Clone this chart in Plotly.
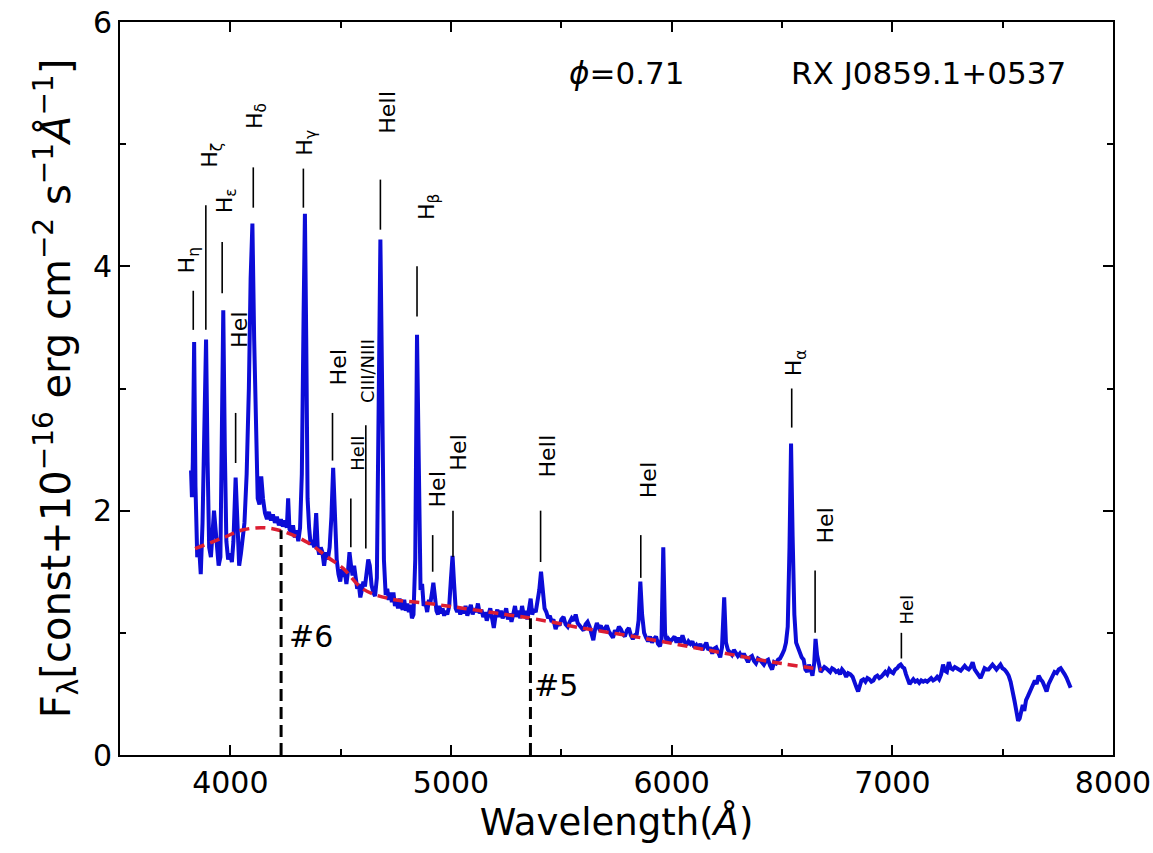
import plotly.graph_objects as go

# ---------------- data ----------------
wavelength = [3822, 3826, 3830, 3836, 3842, 3850, 3858, 3866, 3874, 3882, 3890, 3897, 3904, 3912, 3920, 3926, 3933, 3939, 3947, 3955,
              3962, 3968, 3975, 3982, 3990, 3998, 4007, 4014, 4024, 4032, 4040, 4048, 4056, 4064, 4074, 4084, 4092, 4100, 4108, 4116,
              4124, 4132, 4140, 4148, 4157, 4166, 4175, 4184, 4193, 4202, 4211, 4220, 4229, 4238, 4247, 4256, 4262, 4268, 4276, 4284,
              4292, 4300, 4308, 4316, 4324, 4332, 4338, 4344, 4350, 4357, 4364, 4371, 4380, 4389, 4396, 4403, 4410, 4417, 4425, 4433,
              4442, 4450, 4458, 4466, 4474, 4482, 4490, 4498, 4505, 4512, 4519, 4526, 4533, 4540, 4547, 4554, 4561, 4568, 4575, 4582,
              4589, 4596, 4603, 4610, 4617, 4625, 4632, 4640, 4648, 4656, 4664, 4672, 4680, 4688, 4696, 4704, 4711, 4718, 4725, 4732,
              4739, 4746, 4753, 4760, 4767, 4774, 4781, 4788, 4795, 4802, 4809, 4816, 4823, 4830, 4838, 4846, 4854, 4862, 4869, 4876,
              4884, 4892, 4900, 4907, 4914, 4920, 4927, 4934, 4941, 4948, 4955, 4962, 4969, 4976, 4983, 4992, 5000, 5007, 5014, 5021,
              5028, 5035, 5042, 5050, 5058, 5066, 5074, 5082, 5090, 5098, 5106, 5114, 5122, 5130, 5138, 5146, 5154, 5162, 5170, 5178,
              5186, 5194, 5202, 5210, 5218, 5226, 5234, 5242, 5250, 5258, 5266, 5274, 5282, 5290, 5298, 5306, 5314, 5322, 5330, 5338,
              5346, 5354, 5361, 5368, 5376, 5384, 5392, 5400, 5408, 5416, 5424, 5432, 5440, 5448, 5456, 5464, 5474, 5483, 5492, 5500,
              5510, 5519, 5529, 5538, 5547, 5556, 5565, 5574, 5583, 5592, 5601, 5610, 5619, 5628, 5637, 5645, 5653, 5661, 5670, 5679,
              5688, 5697, 5706, 5716, 5725, 5734, 5743, 5752, 5761, 5770, 5779, 5788, 5797, 5806, 5815, 5824, 5833, 5842, 5850, 5858,
              5866, 5875, 5884, 5893, 5902, 5911, 5920, 5929, 5938, 5947, 5954, 5962, 5970, 5978, 5986, 5995, 6004, 6013, 6022, 6031,
              6040, 6049, 6058, 6067, 6076, 6085, 6094, 6103, 6112, 6121, 6130, 6139, 6148, 6157, 6166, 6175, 6184, 6193, 6202, 6211,
              6220, 6228, 6238, 6246, 6255, 6264, 6273, 6282, 6291, 6300, 6309, 6318, 6327, 6336, 6346, 6355, 6364, 6373, 6382, 6391,
              6400, 6409, 6418, 6427, 6437, 6446, 6455, 6464, 6473, 6482, 6491, 6500, 6510, 6518, 6526, 6534, 6541, 6548, 6556, 6564,
              6572, 6580, 6589, 6598, 6606, 6614, 6622, 6630, 6638, 6646, 6652, 6659, 6667, 6675, 6684, 6692, 6700, 6709, 6718, 6727,
              6736, 6745, 6754, 6763, 6772, 6781, 6791, 6800, 6810, 6820, 6830, 6838, 6845, 6852, 6860, 6869, 6878, 6887, 6896, 6905,
              6914, 6923, 6932, 6941, 6950, 6959, 6968, 6977, 6986, 6995, 7004, 7013, 7022, 7030, 7038, 7046, 7054, 7062, 7070, 7078,
              7086, 7095, 7104, 7113, 7122, 7131, 7140, 7149, 7158, 7167, 7176, 7185, 7194, 7203, 7212, 7221, 7230, 7238, 7247, 7256,
              7265, 7274, 7283, 7292, 7301, 7310, 7319, 7328, 7337, 7346, 7355, 7364, 7373, 7382, 7391, 7400, 7409, 7418, 7427, 7436,
              7445, 7454, 7463, 7472, 7481, 7490, 7499, 7508, 7517, 7527, 7536, 7545, 7554, 7563, 7570, 7577, 7584, 7591, 7598, 7606,
              7614, 7622, 7630, 7638, 7646, 7654, 7663, 7672, 7681, 7690, 7699, 7708, 7717, 7726, 7735, 7745, 7754, 7763, 7772, 7781,
              7790, 7799, 7808]

flux = [2.33, 2.11, 2.40, 3.38, 2.20, 1.62, 1.72, 1.48, 1.90, 2.80, 3.40, 2.40, 1.70, 1.62, 1.85, 2.00, 1.85, 1.72, 1.55, 1.62,
        2.60, 3.64, 2.50, 1.75, 1.60, 1.65, 1.58, 1.75, 2.27, 1.85, 1.55, 1.65, 1.78, 1.90, 2.30, 3.00, 3.90, 4.35, 3.40, 2.60,
        2.10, 2.05, 2.28, 2.10, 1.98, 1.93, 1.99, 1.92, 1.97, 1.90, 1.95, 1.88, 1.93, 1.87, 1.92, 1.86, 2.10, 1.85, 1.82, 1.88,
        1.78, 1.84, 1.75, 1.86, 2.30, 3.60, 4.43, 3.40, 2.10, 1.86, 1.72, 1.76, 1.70, 1.98, 1.70, 1.64, 1.70, 1.66, 1.55, 1.66,
        1.60, 1.70, 1.95, 2.35, 1.95, 1.60, 1.48, 1.42, 1.52, 1.46, 1.50, 1.40, 1.50, 1.66, 1.55, 1.47, 1.55, 1.43, 1.36, 1.40,
        1.29, 1.35, 1.42, 1.38, 1.50, 1.60, 1.55, 1.39, 1.33, 1.30, 1.45, 3.20, 4.22, 3.00, 1.60, 1.31, 1.36, 1.27, 1.33, 1.25,
        1.33, 1.22, 1.26, 1.20, 1.28, 1.22, 1.19, 1.27, 1.18, 1.24, 1.17, 1.23, 1.12, 1.15, 1.60, 3.44, 2.00, 1.35, 1.40, 1.22,
        1.25, 1.17, 1.27, 1.25, 1.33, 1.41, 1.30, 1.18, 1.15, 1.22, 1.16, 1.20, 1.14, 1.18, 1.15, 1.22, 1.45, 1.63, 1.40, 1.20,
        1.17, 1.21, 1.15, 1.20, 1.16, 1.22, 1.14, 1.19, 1.23, 1.15, 1.20, 1.17, 1.24, 1.16, 1.19, 1.13, 1.17, 1.10, 1.16, 1.20,
        1.12, 1.04, 1.14, 1.19, 1.13, 1.18, 1.12, 1.15, 1.20, 1.11, 1.16, 1.09, 1.15, 1.22, 1.13, 1.18, 1.12, 1.22, 1.14, 1.18,
        1.11, 1.20, 1.28, 1.15, 1.19, 1.17, 1.24, 1.35, 1.50, 1.36, 1.20, 1.17, 1.12, 1.14, 1.09, 1.11, 1.03, 1.08, 1.06, 1.11,
        1.13, 1.07, 1.05, 1.09, 1.12, 1.10, 1.15, 1.08, 1.06, 1.04, 1.02, 1.07, 1.09, 1.05, 0.98, 0.94, 1.03, 1.08, 1.04, 1.06,
        1.01, 1.03, 1.06, 1.01, 0.99, 0.96, 1.02, 1.00, 1.05, 1.03, 0.99, 0.97, 1.02, 1.04, 0.98, 0.95, 0.98, 0.99, 1.10, 1.42,
        1.15, 1.00, 0.96, 0.93, 0.97, 0.92, 0.95, 0.97, 0.91, 0.89, 0.95, 1.70, 1.00, 0.92, 0.95, 0.93, 0.95, 0.97, 0.92, 0.96,
        0.92, 0.98, 0.93, 0.90, 0.93, 0.91, 0.93, 0.88, 0.90, 0.87, 0.91, 0.86, 0.89, 0.92, 0.86, 0.88, 0.83, 0.87, 0.88, 0.84,
        0.80, 0.88, 1.29, 0.92, 0.86, 0.84, 0.82, 0.86, 0.84, 0.81, 0.83, 0.80, 0.83, 0.79, 0.76, 0.80, 0.81, 0.77, 0.75, 0.79,
        0.78, 0.76, 0.74, 0.77, 0.78, 0.73, 0.70, 0.76, 0.75, 0.78, 0.79, 0.82, 0.86, 0.92, 1.05, 1.70, 2.55, 1.80, 1.15, 0.92,
        0.88, 0.86, 0.80, 0.78, 0.70, 0.68, 0.74, 0.70, 0.65, 0.75, 0.95, 0.82, 0.74, 0.68, 0.70, 0.72, 0.71, 0.69, 0.68, 0.71,
        0.70, 0.68, 0.69, 0.66, 0.70, 0.68, 0.64, 0.67, 0.66, 0.64, 0.60, 0.55, 0.52, 0.58, 0.61, 0.62, 0.60, 0.63, 0.62, 0.60,
        0.61, 0.64, 0.65, 0.63, 0.64, 0.66, 0.68, 0.66, 0.70, 0.68, 0.67, 0.70, 0.71, 0.73, 0.74, 0.72, 0.71, 0.66, 0.62, 0.58,
        0.60, 0.62, 0.60, 0.61, 0.59, 0.61, 0.60, 0.61, 0.60, 0.62, 0.63, 0.61, 0.62, 0.64, 0.62, 0.66, 0.74, 0.69, 0.68, 0.76,
        0.71, 0.70, 0.72, 0.71, 0.70, 0.69, 0.71, 0.73, 0.71, 0.70, 0.72, 0.76, 0.70, 0.68, 0.66, 0.63, 0.67, 0.71, 0.70, 0.70,
        0.72, 0.74, 0.72, 0.70, 0.72, 0.74, 0.71, 0.70, 0.68, 0.65, 0.60, 0.53, 0.44, 0.35, 0.28, 0.30, 0.38, 0.41, 0.36, 0.45,
        0.48, 0.51, 0.55, 0.58, 0.61, 0.58, 0.65, 0.62, 0.60, 0.56, 0.52, 0.58, 0.62, 0.66, 0.68, 0.67, 0.70, 0.71, 0.69, 0.66,
        0.63, 0.58, 0.55]

# continuum fit (red dashed)
cont_wl = [3840, 3970, 4050, 4150, 4240, 4350, 4440, 4510, 4600, 4720, 4900, 5060, 5210, 5360, 5480, 5560, 5860, 6160, 6460, 6680]
cont_flux = [1.69, 1.78, 1.84, 1.86, 1.83, 1.74, 1.62, 1.53, 1.36, 1.28, 1.24, 1.20, 1.16, 1.12, 1.08, 1.05, 0.96, 0.86, 0.76, 0.70]

# photometric reference points (#6, #5)
ref_names = ["#6", "#5"]
ref_wl = [4230, 5360]
ref_flux = [1.84, 1.12]
ref_label_wl = [4255, 5368]
ref_label_flux = [0.97, 0.57]

# line identifications
line_labels = ["H<sub>η</sub>", "H<sub>ζ</sub>", "H<sub>ε</sub>", "HeI", "H<sub>δ</sub>", "H<sub>γ</sub>", "HeI", "HeII",
               "CIII/NIII", "HeII", "H<sub>β</sub>", "HeI", "HeI", "HeII", "HeI", "H<sub>α</sub>", "HeI", "HeI"]
line_wl = [3832, 3889, 3963, 4024, 4104, 4331, 4463, 4546, 4614, 4680, 4846, 4917, 5009, 5406, 5860, 6544, 6650, 7041]
line_lo = [3.48, 3.48, 3.78, 2.39, 4.48, 4.48, 2.41, 1.70, 1.69, 4.30, 3.59, 1.50, 1.62, 1.58, 1.45, 2.68, 1.00, 0.79]
line_hi = [3.80, 4.50, 4.20, 2.80, 4.81, 4.80, 2.80, 2.10, 2.70, 4.71, 4.00, 1.80, 2.00, 2.00, 1.80, 3.00, 1.51, 1.00]
label_wl = [3809, 3915, 3980, 4044, 4116, 4346, 4492, 4576, 4622, 4712, 4898, 4940, 5030, 5439, 5893, 6565, 6696, 7066]
label_flux = [4.05, 4.91, 4.54, 3.48, 5.23, 5.01, 3.18, 2.47, 3.14, 5.26, 4.49, 2.18, 2.48, 2.45, 2.25, 3.21, 1.88, 1.19]
label_small = [False, False, False, False, False, False, False, True, True, False, False, False, False, False, False, False, False, True]

FONT = "DejaVu Sans"

fig = go.Figure()

fig.add_trace(go.Scatter(x=wavelength, y=flux, mode="lines",
                         line=dict(color="rgb(12,12,215)", width=4), hoverinfo="skip"))

fig.add_trace(go.Scatter(x=cont_wl, y=cont_flux, mode="lines", line_shape="spline",
                         line=dict(color="rgb(220,30,50)", width=3.5, dash="10px,6px"), hoverinfo="skip"))

# vertical dashed reference lines
vx, vy = [], []
for w, f in zip(ref_wl, ref_flux):
    vx += [w, w, None]
    vy += [0, f, None]
fig.add_trace(go.Scatter(x=vx, y=vy, mode="lines",
                         line=dict(color="black", width=3, dash="12px,6px"), hoverinfo="skip"))

# line-identification tick markers
mx, my = [], []
for w, lo, hi in zip(line_wl, line_lo, line_hi):
    mx += [w, w, None]
    my += [lo, hi, None]
fig.add_trace(go.Scatter(x=mx, y=my, mode="lines",
                         line=dict(color="black", width=1.6), hoverinfo="skip"))

annotations = []
for txt, x, y, small in zip(line_labels, label_wl, label_flux, label_small):
    annotations.append(dict(x=x, y=y, xref="x", yref="y", text=txt, showarrow=False,
                            textangle=-90, font=dict(family=FONT, size=18 if small else 22, color="black")))

for name, x, y in zip(ref_names, ref_label_wl, ref_label_flux):
    annotations.append(dict(x=x, y=y, xref="x", yref="y", text=name, showarrow=False, xanchor="left",
                            font=dict(family=FONT, size=30, color="black")))

annotations.append(dict(x=5794, y=5.58, xref="x", yref="y", text="<i>ϕ</i>=0.71", showarrow=False,
                        font=dict(family=FONT, size=31, color="black")))
annotations.append(dict(x=7164, y=5.58, xref="x", yref="y", text="RX J0859.1+0537", showarrow=False,
                        font=dict(family=FONT, size=31, color="black")))

axis_common = dict(showline=True, linecolor="black", linewidth=2, mirror="ticks", ticks="inside",
                   ticklen=10, tickwidth=2, tickcolor="black", showgrid=False, zeroline=False,
                   automargin=False,
                   tickfont=dict(family=FONT, size=30, color="black"))

fig.update_layout(
    width=1153, height=853,
    margin=dict(l=120, r=40, t=22, b=98),
    paper_bgcolor="white", plot_bgcolor="white",
    showlegend=False,
    annotations=annotations,
    xaxis=dict(range=[3500, 8000], tick0=0, dtick=1000,
               minor=dict(dtick=500, ticklen=6, tickwidth=2, ticks="inside", tickcolor="black"),
               title=dict(text="Wavelength(<i>Å</i>)", font=dict(family=FONT, size=37, color="black"), standoff=4),
               **axis_common),
    yaxis=dict(range=[0, 6], tick0=0, dtick=2,
               minor=dict(dtick=1, ticklen=6, tickwidth=2, ticks="inside", tickcolor="black"),
               title=dict(text="F<sub>λ</sub>[const+10<sup>−16</sup> erg cm<sup>−2</sup> s<sup>−1</sup><i>Å</i><sup>−1</sup>]",
                          font=dict(family=FONT, size=40, color="black"), standoff=10),
               **axis_common),
)

# remove the default page margin so the figure fills the window exactly
fig.write_html("out.html", config={"displayModeBar": False},
               post_script="document.body.style.margin='0px';document.body.style.overflow='hidden';")
